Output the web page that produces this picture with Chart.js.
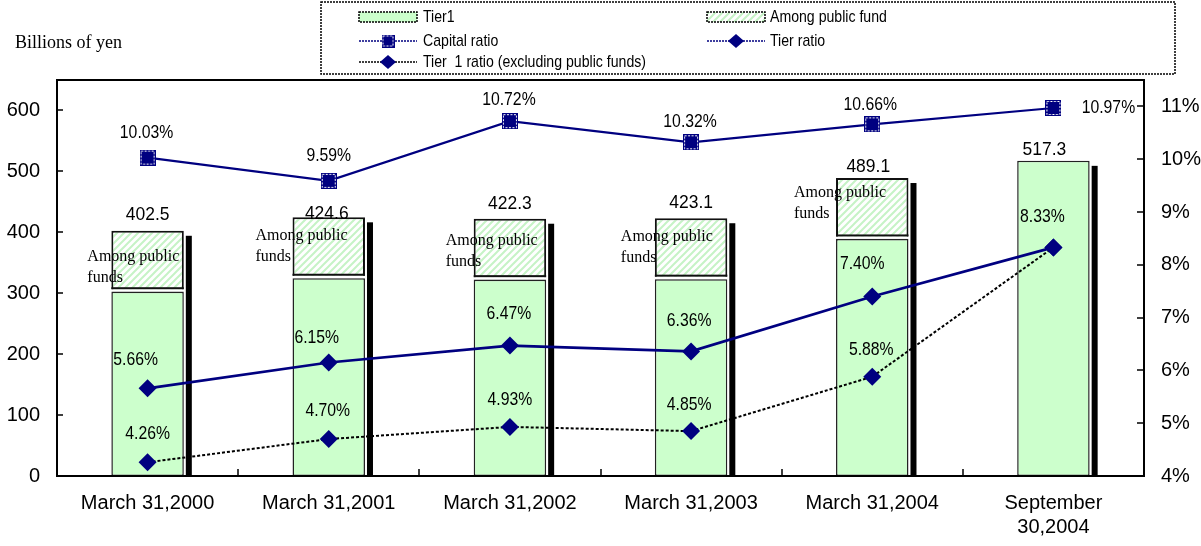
<!DOCTYPE html>
<html><head><meta charset="utf-8">
<script src="https://cdn.jsdelivr.net/npm/chart.js@4/dist/chart.umd.min.js"></script>
<style>html,body{margin:0;padding:0;background:#fff;}canvas{display:block;}</style>
</head><body>
<canvas id="c" width="1201" height="546"></canvas>
<script>
// ---- data ----
const categories = ['March 31,2000', 'March 31,2001', 'March 31,2002', 'March 31,2003', 'March 31,2004', ['September', '30,2004']];
const tier1Values = [302.5, 324.6, 322.3, 323.1, 389.1, 517.3];
const publicFundValues = [100, 100, 100, 100, 100, null];
const totalLabels = ['402.5', '424.6', '422.3', '423.1', '489.1', '517.3'];
const capitalRatio = [10.03, 9.59, 10.72, 10.32, 10.66, 10.97];
const tierRatio = [5.66, 6.15, 6.47, 6.36, 7.40, 8.33];
const tier1ExclRatio = [4.26, 4.70, 4.93, 4.85, 5.88, 8.33];
const seriesNames = ['Tier1', 'Among public fund', 'Capital ratio', 'Tier ratio', 'Tier  1 ratio (excluding public funds)'];
const publicFundNote = ['Among public', 'funds'];
const leftAxisTitle = 'Billions of yen';

// ---- label placement (style only) ----
const capLabelOff = [[-1,-25],[0,-25],[-1,-21],[-1,-21],[-2,-20],[55,0]];
const tierLabelOff = [[-12,-29],[-12,-25],[-1,-32],[-2,-31],[-10,-33],[-11,-31]];
const exclLabelOff = [[0,-29],[-1,-28],[0,-27],[-2,-26],[-1,-27],null];
const totalLabelOff = [[0,-16],[-2,-4],[0,-15],[0,-15],[-4,-11],[-9,-11]];
const noteOff = [[-24,26],[-37,18],[-28,22],[-34,19],[-42,15]];

const NAVY = '#000080';
const GREEN = '#ccffcc';
const canvas = document.getElementById('c');
const ctx = canvas.getContext('2d');

// hatch pattern
const pc = document.createElement('canvas'); pc.width = 7; pc.height = 7;
const pg = pc.getContext('2d');
pg.fillStyle = '#fff'; pg.fillRect(0,0,7,7);
pg.strokeStyle = '#c6f3c6'; pg.lineWidth = 2;
pg.beginPath(); pg.moveTo(-1,8); pg.lineTo(8,-1); pg.moveTo(-4.5,4.5); pg.lineTo(4.5,-4.5); pg.moveTo(2.5,11.5); pg.lineTo(11.5,2.5); pg.stroke();
const hatch = ctx.createPattern(pc, 'repeat');

// square marker
function makeSquare(s) {
  const c = document.createElement('canvas'); c.width = s; c.height = s;
  const g = c.getContext('2d');
  g.fillStyle = NAVY; g.fillRect(0,0,s,s);
  g.strokeStyle = '#fff'; g.lineWidth = 1; g.setLineDash([2,1.5]);
  g.strokeRect(1.5,1.5,s-3,s-3);
  return c;
}
const sqMarker = makeSquare(16);
const sqMarkerSmall = makeSquare(13);

function txt(c, s, x, y, font, align, sx) {
  c.save(); c.translate(x, y); c.scale(sx, 1);
  c.font = font; c.textAlign = align; c.textBaseline = 'middle'; c.fillStyle = '#000';
  c.fillText(s, 0, 0); c.restore();
}
const SANS = '"Liberation Sans", Arial, sans-serif';
const SERIF = '"Liberation Serif", "Times New Roman", serif';

const decor = {
  id: 'decor',
  beforeDatasetsDraw(chart) {
    const c = chart.ctx;
    const g = chart.getDatasetMeta(0), h = chart.getDatasetMeta(1);
    c.save(); c.fillStyle = '#000';
    g.data.forEach((el, i) => {
      const top = publicFundValues[i] != null ? h.data[i].y : el.y;
      const right = el.x + el.width / 2;
      c.fillRect(right + 2, top + 5, 6, el.base - top - 5);
    });
    c.restore();
  },
  afterDatasetDraw(chart, args) {
    if (args.index !== 1) return;
    const c = chart.ctx;
    const h = chart.getDatasetMeta(1);
    c.save();
    h.data.forEach((el, i) => {
      if (publicFundValues[i] == null) return;
      const l = el.x - el.width / 2, w = el.width;
      c.fillStyle = '#fff'; c.fillRect(l - 0.5, el.base - 2.5, w + 1, 2.5);
      c.fillStyle = '#111'; c.fillRect(l, el.base - 4.5, w, 2);
    });
    c.restore();
  },
  afterDatasetsDraw(chart) {
    const c = chart.ctx;
    const g = chart.getDatasetMeta(0), h = chart.getDatasetMeta(1);
    g.data.forEach((el, i) => {
      const top = publicFundValues[i] != null ? h.data[i].y : el.y;
      const o = totalLabelOff[i];
      txt(c, totalLabels[i], el.x + o[0], top + o[1], '19px ' + SANS, 'center', 0.92);
    });
    h.data.forEach((el, i) => {
      if (publicFundValues[i] == null) return;
      const o = noteOff[i];
      const l = el.x - el.width / 2 + o[0];
      txt(c, publicFundNote[0], l, el.y + o[1], '16px ' + SERIF, 'left', 1);
      txt(c, publicFundNote[1], l, el.y + o[1] + 21, '16px ' + SERIF, 'left', 1);
    });
    const sets = [[2, capitalRatio, capLabelOff], [3, tierRatio, tierLabelOff], [4, tier1ExclRatio, exclLabelOff]];
    sets.forEach(([di, vals, offs]) => {
      const m = chart.getDatasetMeta(di);
      m.data.forEach((p, i) => {
        const o = offs[i]; if (!o) return;
        txt(c, vals[i].toFixed(2) + '%', p.x + o[0], p.y + o[1], '19px ' + SANS, 'center', 0.83);
      });
    });
  },
  afterDraw(chart) {
    const c = chart.ctx, a = chart.chartArea;
    c.save();
    c.strokeStyle = '#000'; c.lineWidth = 2;
    c.strokeRect(a.left, a.top, a.right - a.left, a.bottom - a.top);
    c.lineWidth = 1.5;
    c.beginPath();
    chart.scales.y.ticks.forEach(t => { const y = Math.round(chart.scales.y.getPixelForValue(t.value)); c.moveTo(a.left, y); c.lineTo(a.left + 6, y); });
    chart.scales.y1.ticks.forEach(t => { const y = Math.round(chart.scales.y1.getPixelForValue(t.value)); c.moveTo(a.right - 7, y); c.lineTo(a.right, y); });
    const n = categories.length, cw = (a.right - a.left) / n;
    for (let k = 1; k < n; k++) { const x = Math.round(a.left + cw * k); c.moveTo(x, a.bottom); c.lineTo(x, a.bottom - 7); }
    c.stroke();
    c.restore();
    txt(c, leftAxisTitle, 15, 43, '18px ' + SERIF, 'left', 1);
    // legend
    c.save();
    c.strokeStyle = '#000'; c.lineWidth = 1.5; c.setLineDash([2, 1]);
    c.strokeRect(321, 2, 854, 72);
    c.fillStyle = GREEN; c.fillRect(359, 12, 58, 10); c.strokeRect(359, 12, 58, 10);
    c.fillStyle = hatch; c.fillRect(707, 12, 58, 10); c.strokeRect(707, 12, 58, 10);
    c.lineWidth = 1.5; c.setLineDash([2, 1]);
    c.strokeStyle = NAVY; c.beginPath(); c.moveTo(359, 41); c.lineTo(417, 41); c.moveTo(707, 41); c.lineTo(765, 41); c.stroke();
    c.strokeStyle = '#000'; c.beginPath(); c.moveTo(359, 62); c.lineTo(417, 62); c.stroke();
    c.setLineDash([]);
    c.drawImage(sqMarkerSmall, 388 - 6.5, 41 - 6.5);
    c.fillStyle = NAVY;
    [[736, 41], [388, 62]].forEach(([x, y]) => { c.beginPath(); c.moveTo(x - 8, y); c.lineTo(x, y - 7); c.lineTo(x + 8, y); c.lineTo(x, y + 7); c.closePath(); c.fill(); });
    c.restore();
    const lf = '17px ' + SANS;
    txt(c, seriesNames[0], 423, 17, lf, 'left', 0.83);
    txt(c, seriesNames[1], 770, 17, lf, 'left', 0.83);
    txt(c, seriesNames[2], 423, 41, lf, 'left', 0.83);
    txt(c, seriesNames[3], 770, 41, lf, 'left', 0.83);
    txt(c, seriesNames[4], 423, 62, lf, 'left', 0.83);
  }
};

const tickFont = { family: SANS, size: 20 };
new Chart(ctx, {
  type: 'bar',
  data: {
    labels: categories,
    datasets: [
      { type: 'bar', label: seriesNames[0], data: tier1Values, yAxisID: 'y', backgroundColor: GREEN, borderColor: '#222', borderWidth: 1.5, borderSkipped: false, barPercentage: 0.8, categoryPercentage: 0.5, order: 2 },
      { type: 'bar', label: seriesNames[1], data: publicFundValues, yAxisID: 'y', backgroundColor: hatch, borderColor: '#111', borderWidth: 2, borderSkipped: false, barPercentage: 0.8, categoryPercentage: 0.5, order: 2 },
      { type: 'line', label: seriesNames[2], data: capitalRatio, yAxisID: 'y1', borderColor: NAVY, borderWidth: 2.2, pointStyle: sqMarker, pointRadius: 8, order: 0 },
      { type: 'line', label: seriesNames[3], data: tierRatio, yAxisID: 'y1', borderColor: NAVY, borderWidth: 2.7, pointStyle: 'rectRot', pointRadius: 9, pointBackgroundColor: NAVY, pointBorderColor: NAVY, pointBorderWidth: 0, order: 0 },
      { type: 'line', label: seriesNames[4], data: tier1ExclRatio, yAxisID: 'y1', borderColor: '#000', borderWidth: 2, borderDash: [3, 2], pointStyle: 'rectRot', pointRadius: 9, pointBackgroundColor: NAVY, pointBorderColor: NAVY, pointBorderWidth: 0, order: 0 }
    ]
  },
  options: {
    responsive: false, animation: false,
    layout: { padding: { top: 80, left: 0, right: 0, bottom: 0 } },
    plugins: { legend: { display: false }, tooltip: { enabled: false } },
    scales: {
      x: {
        stacked: true, offset: true,
        grid: { display: false, drawTicks: false }, border: { display: false },
        ticks: { color: '#000', font: tickFont, padding: 15, maxRotation: 0, autoSkip: false },
        afterFit(s) { s.height = 70; }
      },
      y: {
        stacked: true, position: 'left', min: 0, max: 650,
        grid: { display: false, drawTicks: false }, border: { display: false },
        ticks: { stepSize: 100, color: '#000', font: tickFont, padding: 17 },
        afterBuildTicks(s) { s.ticks = s.ticks.filter(t => t.value <= 600); },
        afterFit(s) { s.width = 57; }
      },
      y1: {
        position: 'right', min: 4, max: 11.5,
        grid: { display: false, drawTicks: false }, border: { display: false },
        ticks: { stepSize: 1, color: '#000', font: tickFont, padding: 17, callback: v => v + '%' },
        afterBuildTicks(s) { s.ticks = s.ticks.filter(t => Number.isInteger(t.value)); },
        afterFit(s) { s.width = 57; }
      }
    }
  },
  plugins: [decor]
});
</script>
</body></html>
